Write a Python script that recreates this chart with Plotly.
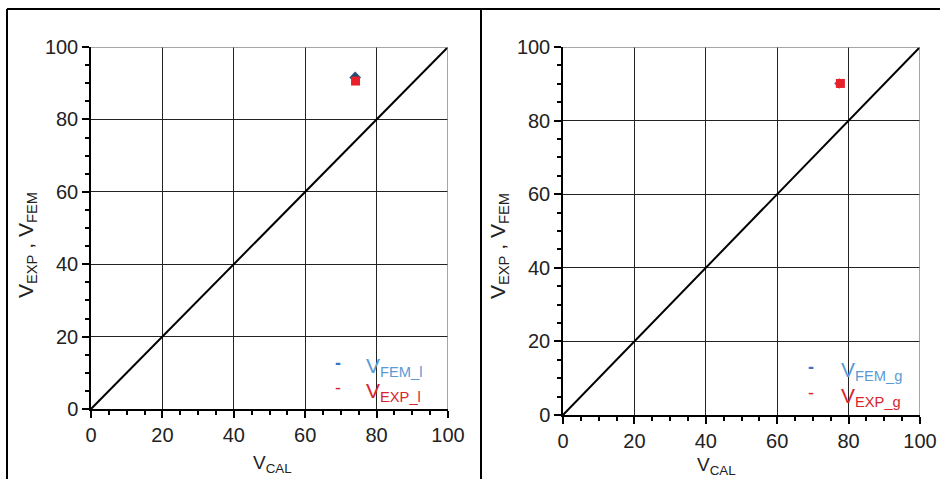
import plotly.graph_objects as go

# Data
diag_x = [0, 100]
diag_y = [0, 100]

left_fem_x = [74.0]
left_fem_y = [91.6]
left_exp_x = [74.1]
left_exp_y = [90.6]

right_fem_x = [77.4]
right_fem_y = [90.1]
right_exp_x = [77.7]
right_exp_y = [90.1]

tick_vals = [0, 20, 40, 60, 80, 100]
tick_text = ["0", "20", "40", "60", "80", "100"]

W, H = 940, 479
BLUE = "#1F4E79"
RED = "#E8202A"
LBLUE = "#5B9BD5"
LRED = "#D9232E"

def px_x(p):
    return p / W

def px_y(p):
    return 1 - p / H

fig = go.Figure()

# Left panel
fig.add_trace(go.Scatter(x=diag_x, y=diag_y, mode="lines", line=dict(color="black", width=2),
                         xaxis="x", yaxis="y", showlegend=False))
fig.add_trace(go.Scatter(x=left_fem_x, y=left_fem_y, mode="markers", name="V_FEM_l",
                         marker=dict(symbol="diamond", size=9, color=BLUE),
                         xaxis="x", yaxis="y", showlegend=False))
fig.add_trace(go.Scatter(x=left_exp_x, y=left_exp_y, mode="markers", name="V_EXP_l",
                         marker=dict(symbol="square", size=9, color=RED),
                         xaxis="x", yaxis="y", showlegend=False))
# Right panel
fig.add_trace(go.Scatter(x=diag_x, y=diag_y, mode="lines", line=dict(color="black", width=2),
                         xaxis="x2", yaxis="y2", showlegend=False))
fig.add_trace(go.Scatter(x=right_fem_x, y=right_fem_y, mode="markers", name="V_FEM_g",
                         marker=dict(symbol="diamond", size=8, color="#4472C4"),
                         xaxis="x2", yaxis="y2", showlegend=False))
fig.add_trace(go.Scatter(x=right_exp_x, y=right_exp_y, mode="markers", name="V_EXP_g",
                         marker=dict(symbol="square", size=9, color=RED),
                         xaxis="x2", yaxis="y2", showlegend=False))

tickfont = dict(family="Liberation Sans, Arial, sans-serif", size=20, color="#222222")

def axis(dom, anchor):
    return dict(domain=dom, range=[0, 100], anchor=anchor, tickvals=tick_vals, ticktext=tick_text,
                showgrid=True, gridcolor="#222222", gridwidth=1, zeroline=False,
                showline=True, linecolor="black", linewidth=1.5,
                ticks="outside", ticklen=7, tickcolor="black", tickwidth=1.5,
                minor=dict(dtick=5, ticks="outside", ticklen=4, tickcolor="black", showgrid=False),
                tickfont=tickfont, fixedrange=True, automargin=False)

fig.update_layout(
    width=W, height=H,
    margin=dict(l=0, r=0, t=0, b=0, pad=0, autoexpand=False),
    paper_bgcolor="white", plot_bgcolor="white",
    xaxis=axis([px_x(91), px_x(448)], "y"),
    yaxis=axis([px_y(409), px_y(47)], "x"),
    xaxis2=axis([px_x(563), px_x(920)], "y2"),
    yaxis2=axis([px_y(415), px_y(47)], "x2"),
)

shapes = []
# Outer frame lines
shapes.append(dict(type="line", xref="paper", yref="paper", x0=px_x(7), x1=1, y0=px_y(9), y1=px_y(9),
                   line=dict(color="black", width=2)))
shapes.append(dict(type="line", xref="paper", yref="paper", x0=px_x(7), x1=px_x(7), y0=px_y(9), y1=0,
                   line=dict(color="black", width=2)))
shapes.append(dict(type="line", xref="paper", yref="paper", x0=px_x(481), x1=px_x(481), y0=px_y(9), y1=0,
                   line=dict(color="black", width=2)))
# Gray top/right borders of the plot areas
for xr, yr in (("x", "y"), ("x2", "y2")):
    shapes.append(dict(type="line", xref=xr, yref=yr, x0=0, x1=100, y0=100, y1=100,
                       line=dict(color="#888888", width=1.5)))
    shapes.append(dict(type="line", xref=xr, yref=yr, x0=100, x1=100, y0=0, y1=100,
                       line=dict(color="#888888", width=1.5)))
fig.update_layout(shapes=shapes)

annfont = dict(family="Liberation Sans, Arial, sans-serif", size=19, color="#222222")
ytfont = dict(family="Liberation Sans, Arial, sans-serif", size=21, color="#222222")
anns = []
# Axis titles
anns.append(dict(text="V<sub>CAL</sub>", x=px_x(251), y=px_y(464), xref="paper", yref="paper",
                 showarrow=False, font=annfont, xanchor="left", yanchor="middle"))
anns.append(dict(text="V<sub>CAL</sub>", x=px_x(695), y=px_y(466), xref="paper", yref="paper",
                 showarrow=False, font=annfont, xanchor="left", yanchor="middle"))
anns.append(dict(text="V<sub>EXP</sub> , V<sub>FEM</sub>", x=px_x(27), y=px_y(245), xref="paper", yref="paper",
                 showarrow=False, font=ytfont, textangle=-90, xanchor="center", yanchor="middle"))
anns.append(dict(text="V<sub>EXP</sub> , V<sub>FEM</sub>", x=px_x(499), y=px_y(246), xref="paper", yref="paper",
                 showarrow=False, font=ytfont, textangle=-90, xanchor="center", yanchor="middle"))

# Legends
legfont_b = dict(family="Liberation Sans, Arial, sans-serif", size=21, color=LBLUE)
legfont_r = dict(family="Liberation Sans, Arial, sans-serif", size=21, color=LRED)
for (dx, tx, y1, y2, s) in ((338, 364, 367, 392, "l"), (811, 839, 371, 397, "g")):
    anns.append(dict(text="<b>-</b>", x=px_x(dx), y=px_y(y1 - 4), xref="paper", yref="paper",
                     showarrow=False, font=dict(family="Liberation Sans", size=18, color="#3A75C4"),
                     xanchor="center", yanchor="middle"))
    anns.append(dict(text="-", x=px_x(dx), y=px_y(y2 - 4), xref="paper", yref="paper",
                     showarrow=False, font=dict(family="Liberation Sans", size=18, color=LRED),
                     xanchor="center", yanchor="middle"))
    anns.append(dict(text="V<sub>FEM_" + s + "</sub>", x=px_x(tx), y=px_y(y1), xref="paper", yref="paper",
                     showarrow=False, font=legfont_b, xanchor="left", yanchor="middle"))
    anns.append(dict(text="V<sub>EXP_" + s + "</sub>", x=px_x(tx), y=px_y(y2), xref="paper", yref="paper",
                     showarrow=False, font=legfont_r, xanchor="left", yanchor="middle"))

fig.update_layout(annotations=anns)

fig.write_html("out.html",
               config={"displayModeBar": False},
               post_script="document.body.style.margin='0';document.body.style.padding='0';"
                           "document.body.style.overflow='hidden';")
